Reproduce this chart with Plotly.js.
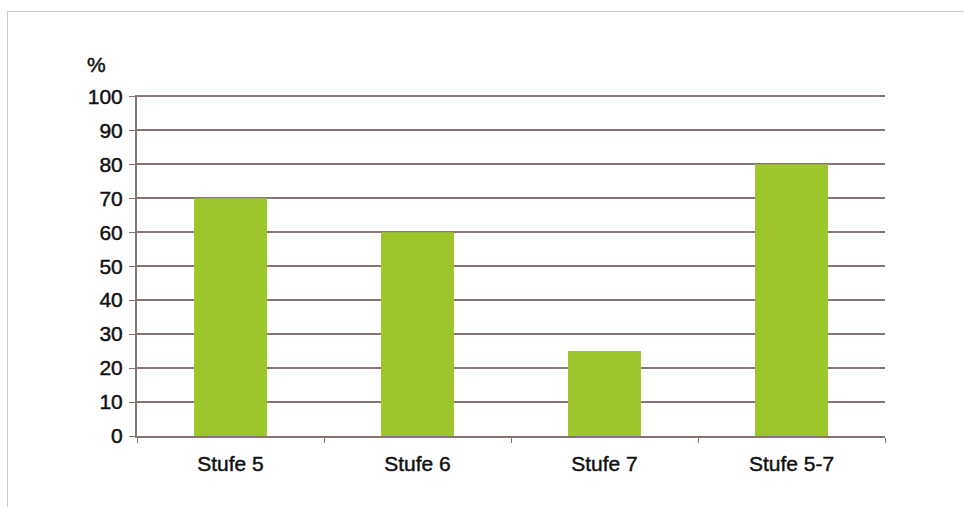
<!DOCTYPE html>
<html>
<head>
<meta charset="utf-8">
<script src="https://cdn.plot.ly/plotly-3.0.1.min.js"></script>
<style>
  html, body { margin: 0; padding: 0; background: #ffffff; }
  #frame {
    position: absolute; left: 7px; top: 11px; width: 970px; height: 510px;
    border: 1px solid #c9c9c9; box-sizing: border-box;
  }
  #chart { position: absolute; left: 0; top: 0; width: 964px; height: 507px; }
  /* slightly heavier glyphs for the axis labels */
  #chart .xtick text, #chart .ytick text, #chart .annotation-text {
    stroke: #111111; stroke-width: 0.45px;
  }
</style>
</head>
<body>
<div id="frame"></div>
<div id="chart"></div>
<script>
// Anteil in Prozent je Stufe
const categories = ["Stufe 5", "Stufe 6", "Stufe 7", "Stufe 5-7"];
const values = [70, 60, 25, 80];
const yTickValues = [0, 10, 20, 30, 40, 50, 60, 70, 80, 90, 100];
const yTickLabels = ["0", "10", "20", "30", "40", "50", "60", "70", "80", "90", "100"];
const unitLabel = "%";

const lineColor = "#857674";
const barColor = "#9cc62b";
const textColor = "#111111";
const fontFamily = "Liberation Sans, Arial, sans-serif";

const trace = {
  type: "bar",
  x: categories,
  y: values,
  marker: { color: barColor, line: { width: 0 } },
  hoverinfo: "x+y"
};

const layout = {
  width: 964,
  height: 507,
  margin: { l: 137, r: 79, t: 95, b: 71 },
  paper_bgcolor: "rgba(0,0,0,0)",
  plot_bgcolor: "rgba(0,0,0,0)",
  bargap: 0.61,
  showlegend: false,
  font: { family: fontFamily, color: textColor },
  xaxis: {
    type: "category",
    showline: true,
    linecolor: lineColor,
    linewidth: 2,
    ticks: "outside",
    tickson: "boundaries",
    ticklen: 5,
    tickwidth: 1,
    tickcolor: lineColor,
    showgrid: false,
    tickfont: { size: 21, family: fontFamily, color: textColor },
    ticklabelstandoff: 8,
    fixedrange: true
  },
  yaxis: {
    range: [0, 100.4],
    tickmode: "array",
    tickvals: yTickValues,
    ticktext: yTickLabels,
    showline: true,
    linecolor: lineColor,
    linewidth: 2,
    ticks: "outside",
    ticklen: 6,
    tickwidth: 1,
    tickcolor: lineColor,
    showgrid: true,
    gridcolor: lineColor,
    gridwidth: 2,
    zeroline: false,
    tickfont: { size: 21, family: fontFamily, color: textColor },
    ticklabelstandoff: 2,
    fixedrange: true
  },
  annotations: [{
    text: unitLabel,
    xref: "paper", yref: "paper",
    x: -0.054, y: 1.088,
    xanchor: "center", yanchor: "middle",
    showarrow: false,
    font: { size: 21, family: fontFamily, color: textColor }
  }]
};

Plotly.newPlot("chart", [trace], layout, { displayModeBar: false, staticPlot: true });
</script>
</body>
</html>
